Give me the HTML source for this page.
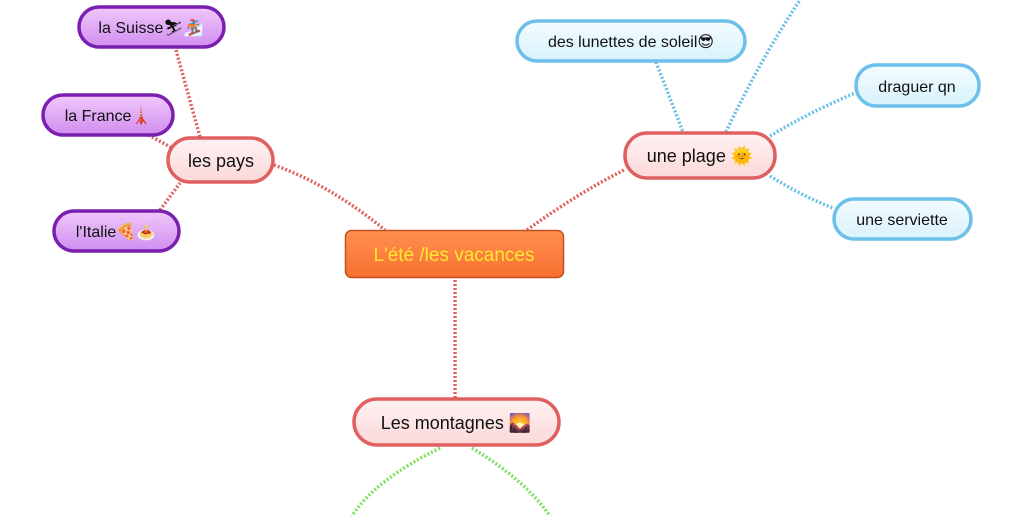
<!DOCTYPE html>
<html><head><meta charset="utf-8"><style>
html,body{margin:0;padding:0;background:#fff;width:1024px;height:516px;overflow:hidden}
svg{display:block}
text{font-family:"Liberation Sans","DejaVu Sans",sans-serif;}
</style></head><body>
<svg width="1024" height="516" viewBox="0 0 1024 516" xmlns="http://www.w3.org/2000/svg">
<defs>
<linearGradient id="pu" x1="0" y1="0" x2="0" y2="1"><stop offset="0" stop-color="#f0c8fa"/><stop offset="1" stop-color="#d08ef0"/></linearGradient>
<linearGradient id="rd" x1="0" y1="0" x2="0" y2="1"><stop offset="0" stop-color="#fff2f2"/><stop offset="1" stop-color="#fbd8d8"/></linearGradient>
<linearGradient id="bl" x1="0" y1="0" x2="0" y2="1"><stop offset="0" stop-color="#f4fcff"/><stop offset="1" stop-color="#d8f2fc"/></linearGradient>
<linearGradient id="or" x1="0" y1="0" x2="0" y2="1"><stop offset="0" stop-color="#ff9050"/><stop offset="1" stop-color="#f87030"/></linearGradient>
</defs>
<g fill="none" stroke-width="3.5" stroke-dasharray="2 2">
<g stroke="#e06262">
<path d="M274 165 Q330 185 385 230"/>
<path d="M527 230 Q575 195 624 170"/>
<path d="M455 280 L455 398"/>
<path d="M176 50 L200 137"/>
<path d="M145 133 L172 148"/>
<path d="M160 210 L180 183"/>
</g>
<g stroke="#6cc0e6">
<path d="M656 62 L683 132"/>
<path d="M726 132 Q760 60 800 0"/>
<path d="M770 136 Q810 112 855 93"/>
<path d="M770 176 Q800 195 833 208"/>
</g>
<g stroke="#80e060">
<path d="M440 448 Q375 480 352 516"/>
<path d="M472 448 Q525 480 550 516"/>
</g>
</g>
<g stroke-width="3.5">
<rect x="79" y="7" width="145" height="40" rx="20" fill="url(#pu)" stroke="#7a20b0"/>
<rect x="43" y="95" width="130" height="40" rx="20" fill="url(#pu)" stroke="#7a20b0"/>
<rect x="54" y="211" width="125" height="40" rx="20" fill="url(#pu)" stroke="#7a20b0"/>
<rect x="168" y="138" width="105" height="44" rx="22" fill="url(#rd)" stroke="#e06060"/>
<rect x="625" y="133" width="150" height="45" rx="22" fill="url(#rd)" stroke="#e06060"/>
<rect x="354" y="399" width="205" height="46" rx="23" fill="url(#rd)" stroke="#e06060"/>
<rect x="517" y="21" width="228" height="40" rx="20" fill="url(#bl)" stroke="#6cc0ea"/>
<rect x="856" y="65" width="123" height="41" rx="20" fill="url(#bl)" stroke="#6cc0ea"/>
<rect x="834" y="199" width="137" height="40" rx="20" fill="url(#bl)" stroke="#6cc0ea"/>
</g>
<rect x="345.5" y="230.5" width="218" height="47" rx="6" fill="url(#or)" stroke="#c05020" stroke-width="1.5"/>
<g font-size="16" fill="#111" text-anchor="middle">
<text x="151" y="33">la Suisse⛷🏂</text>
<text x="108" y="121">la France🗼</text>
<text x="116" y="237">l'Italie🍕🍝</text>
<text x="221" y="167" font-size="18">les pays</text>
<text x="700" y="162" font-size="18">une plage 🌞</text>
<text x="456" y="429" font-size="18">Les montagnes 🌄</text>
<text x="631" y="47">des lunettes de soleil😎</text>
<text x="917" y="92">draguer qn</text>
<text x="902" y="225">une serviette</text>
<text x="454" y="261" font-size="19" fill="#ffe830">L'été /les vacances</text>
</g>
</svg>
</body></html>
